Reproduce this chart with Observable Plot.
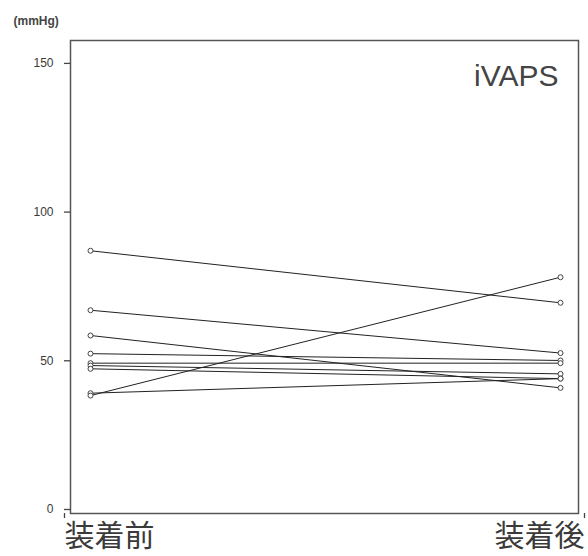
<!DOCTYPE html>
<html>
<head>
<meta charset="utf-8">
<script src="https://cdn.jsdelivr.net/npm/d3@7"></script>
<script src="https://cdn.jsdelivr.net/npm/@observablehq/plot@0.6"></script>
<style>
  html, body { margin: 0; padding: 0; background: #fff; }
  #chart svg { display: block; }
</style>
</head>
<body>
<div id="chart"></div>
<script>
const conditions = ["装着前", "装着後"];
const subjects = ["s1", "s2", "s3", "s4", "s5", "s6", "s7", "s8", "s9"];
const before = [87, 67, 58.5, 52.4, 49.2, 48.4, 47.3, 39.1, 38.3];
const after  = [69.5, 52.6, 40.9, 50.1, 49.2, 45.6, 44.0, 44.0, 78.1];
const yTicks = [0, 50, 100, 150];
const unitLabel = "(mmHg)";
const panelLabel = "iVAPS";

const rows = [];
subjects.forEach((s, i) => {
  rows.push({subject: s, cond: conditions[0], value: before[i]});
  rows.push({subject: s, cond: conditions[1], value: after[i]});
});

const textColor = "#3a3a3a";
const cjk = "'Noto Sans CJK JP', 'Noto Sans', sans-serif";

const chart = Plot.plot({
  width: 588,
  height: 556,
  marginLeft: 70,
  marginRight: 10,
  marginTop: 40,
  marginBottom: 43,
  style: {fontFamily: "'Liberation Sans', Arial, sans-serif", color: textColor, background: "#fff"},
  x: {type: "point", domain: conditions, padding: 0, insetLeft: 20, insetRight: 18, axis: null},
  y: {domain: [-1.35, 157.7], axis: null},
  marks: [
    Plot.frame({stroke: "#555", strokeWidth: 1.5}),
    Plot.axisY(yTicks, {tickSize: 6, tickPadding: 11, fontSize: 12, stroke: "#444", strokeWidth: 1.3, fill: textColor, label: null}),
    Plot.axisX([conditions[0]], {tickSize: 5, stroke: "#444", strokeWidth: 1.3, tickPadding: 6, fontSize: 30, fontFamily: cjk, textAnchor: "start", dx: -26, fill: textColor, label: null}),
    Plot.axisX([conditions[1]], {tickSize: 5, stroke: "#444", strokeWidth: 1.3, tickPadding: 6, fontSize: 30, fontFamily: cjk, textAnchor: "end", dx: 24, fill: textColor, label: null}),
    Plot.line(rows, {x: "cond", y: "value", z: "subject", stroke: "#222", strokeWidth: 1}),
    Plot.dot(rows, {x: "cond", y: "value", r: 2.5, fill: "#fff", stroke: "#444", strokeWidth: 1}),
    Plot.text([unitLabel], {frameAnchor: "top-left", dx: -57, dy: -19, textAnchor: "start", lineAnchor: "middle", fontSize: 12, fontWeight: "bold", fill: "#444"}),
    Plot.text([panelLabel], {frameAnchor: "top-right", dx: -20, dy: 45, textAnchor: "end", lineAnchor: "bottom", fontSize: 30, fill: "#444"})
  ]
});
document.getElementById("chart").appendChild(chart);
</script>
</body>
</html>
